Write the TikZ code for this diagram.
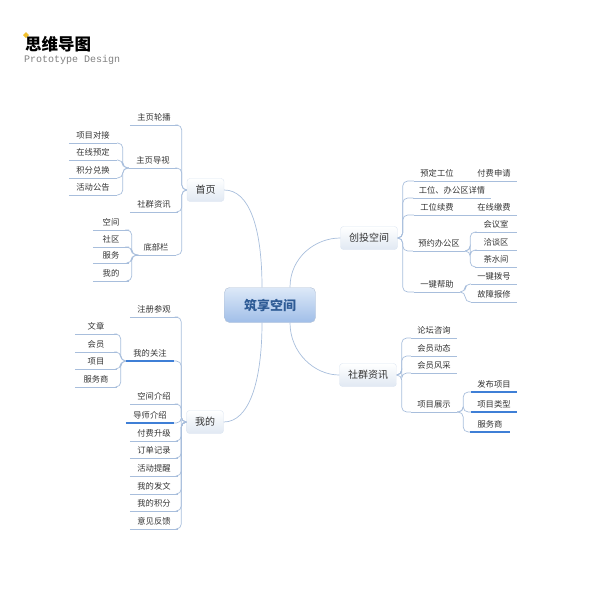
\documentclass[tikz,border=0pt]{standalone}
\usepackage{fontspec}
\newfontfamily\cjk{Noto Sans CJK SC}
\newfontfamily\monof{Liberation Mono}
\usetikzlibrary{positioning}

\definecolor{lnkblue}{HTML}{A8BEDC}
\definecolor{hlblue}{HTML}{3F7FD6}
\definecolor{rootdark}{HTML}{2E5B95}
\definecolor{roottop}{HTML}{DDE9F8}
\definecolor{rootbot}{HTML}{A0BEE8}
\definecolor{txtgray}{HTML}{333333}
\definecolor{ttlyel}{HTML}{F2C12E}

\tikzset{
  lnk/.style={draw=lnkblue, line width=0.7pt, rounded corners=5pt},
  hl/.style={draw=hlblue, line width=1.4pt},
  root/.style={rounded corners=5pt, draw=rootbot!80!black!60, top color=roottop, bottom color=rootbot,
    minimum width=91pt, minimum height=35pt, text=rootdark, font=\cjk\bfseries\fontsize{13}{15}\selectfont},
  topic/.style={rounded corners=3pt, top color=white, bottom color=lnkblue!35, draw=lnkblue!40,
    minimum height=23pt, inner xsep=8.5pt, text=txtgray, font=\cjk\fontsize{10}{12}\selectfont},
  leaf/.style={font=\cjk\fontsize{8.3}{10}\selectfont, text=txtgray, text height=7pt, text depth=3pt,
    inner sep=1.5pt, anchor=south, minimum width=48pt,
    append after command={\pgfextra{\let\lfnode\tikzlastnode}
      (\lfnode.south west) edge[lnk] (\lfnode.south east)}},
  hlleaf/.style={leaf,
    append after command={\pgfextra{\let\hlnode\tikzlastnode}
      (\hlnode.south west) edge[hl] (\hlnode.south east)}},
}

\begin{document}
\begin{tikzpicture}[x=1pt, y=-1pt]
\useasboundingbox (0,0) rectangle (600,600);

% title
\fill[ttlyel] (26,32) -- (29,35) -- (26,38) -- (23,35) -- cycle;
\node[anchor=west, inner sep=0, font=\cjk\bfseries\fontsize{16.5}{18}\selectfont] (title) at (25,44) {思维导图};
\node[anchor=west, inner sep=0, text=black!50, font=\monof\fontsize{10}{12}\selectfont] (subttl) at (24,60) {Prototype Design};

% center and main topics
\node[root] (root) at (270,305) {筑享空间};
\node[topic] (sy) at (205.5,190) {首页};
\node[topic] (wd) at (205,422) {我的};
\node[topic] (ctkj) at (369,238) {创投空间};
\node[topic] (sqzx) at (368,375) {社群资讯};

\draw[lnk] ([xshift=-8pt]root.north) .. controls +(0,-60) and +(25,0) .. (sy.east);
\draw[lnk] ([xshift=-8pt]root.south) .. controls +(0,60) and +(25,0) .. (wd.east);
\draw[lnk] ([xshift=20pt]root.north) .. controls +(0,-30) and +(-25,0) .. (ctkj.west);
\draw[lnk] ([xshift=20pt]root.south) .. controls +(0,30) and +(-25,0) .. (sqzx.west);

% 首页
\node[leaf] (zylb) at (154,125) {主页轮播};
\node[leaf] (zydh) at (153,168) {主页导视};
\node[leaf] (sqzx1) at (154,212) {社群资讯};
\node[leaf, minimum width=40pt] (dbl) at (156,255) {底部栏};

\node[leaf] (xmdj) at (93,143) {项目对接};
\node[leaf] (zxyd) at (93,160) {在线预定};
\node[leaf] (jfdh) at (93,178) {积分兑换};
\node[leaf] (hdgg) at (93,195) {活动公告};

\node[leaf, minimum width=36pt] (kj) at (111,230) {空间};
\node[leaf, minimum width=36pt] (sq) at (111,247) {社区};
\node[leaf, minimum width=36pt] (fw) at (111,263) {服务};
\node[leaf, minimum width=36pt] (wd1) at (111,281) {我的};

\draw[lnk] (sy.west) -- ++(-5,0) |- (zylb.south east);
\draw[lnk] (sy.west) -- ++(-5,0) |- (zydh.south east);
\draw[lnk] (sy.west) -- ++(-5,0) |- (sqzx1.south east);
\draw[lnk] (sy.west) -- ++(-5,0) |- (dbl.south east);

\draw[lnk] (zydh.south west) -- ++(-6,0) |- (xmdj.south east);
\draw[lnk] (zydh.south west) -- ++(-6,0) |- (zxyd.south east);
\draw[lnk] (zydh.south west) -- ++(-6,0) |- (jfdh.south east);
\draw[lnk] (zydh.south west) -- ++(-6,0) |- (hdgg.south east);

\draw[lnk] (dbl.south west) -- ++(-4,0) |- (kj.south east);
\draw[lnk] (dbl.south west) -- ++(-4,0) |- (sq.south east);
\draw[lnk] (dbl.south west) -- ++(-4,0) |- (fw.south east);
\draw[lnk] (dbl.south west) -- ++(-4,0) |- (wd1.south east);

% 我的
\node[leaf] (zccg) at (154,317) {注册参观};
\node[hlleaf] (wdgz) at (150,361) {我的关注};
\node[leaf] (kjjs) at (154,404) {空间介绍};
\node[hlleaf] (dsjs) at (150,423) {导师介绍};
\node[leaf] (ffsj) at (154,441) {付费升级};
\node[leaf] (ddjl) at (154,458) {订单记录};
\node[leaf] (hdtx) at (154,476) {活动提醒};
\node[leaf] (wdfw) at (154,494) {我的发文};
\node[leaf] (wdjf) at (154,511) {我的积分};
\node[leaf] (yjfk) at (154,529) {意见反馈};

\node[leaf, minimum width=42pt] (wz) at (96,334) {文章};
\node[leaf, minimum width=42pt] (hy) at (96,352) {会员};
\node[leaf, minimum width=42pt] (xm) at (96,369) {项目};
\node[leaf, minimum width=42pt] (fws) at (96,387) {服务商};

\draw[lnk] (wd.west) -- ++(-5,0) |- (zccg.south east);
\draw[lnk] (wd.west) -- ++(-5,0) |- (wdgz.south east);
\draw[lnk] (wd.west) -- ++(-5,0) |- (kjjs.south east);
\draw[lnk] (wd.west) -- ++(-5,0) |- (dsjs.south east);
\draw[lnk] (wd.west) -- ++(-5,0) |- (ffsj.south east);
\draw[lnk] (wd.west) -- ++(-5,0) |- (ddjl.south east);
\draw[lnk] (wd.west) -- ++(-5,0) |- (hdtx.south east);
\draw[lnk] (wd.west) -- ++(-5,0) |- (wdfw.south east);
\draw[lnk] (wd.west) -- ++(-5,0) |- (wdjf.south east);
\draw[lnk] (wd.west) -- ++(-5,0) |- (yjfk.south east);

\draw[lnk] (wdgz.south west) -- ++(-5,0) |- (wz.south east);
\draw[lnk] (wdgz.south west) -- ++(-5,0) |- (hy.south east);
\draw[lnk] (wdgz.south west) -- ++(-5,0) |- (xm.south east);
\draw[lnk] (wdgz.south west) -- ++(-5,0) |- (fws.south east);

% 创投空间
\node[leaf, minimum width=46pt] (ydgw) at (437,181) {预定工位};
\node[leaf, minimum width=46pt] (ffsq) at (494,181) {付费申请};
\node[leaf, minimum width=77pt] (gwxq) at (452,198) {工位、办公区详情};
\node[leaf, minimum width=46pt] (gwxf) at (437,215) {工位续费};
\node[leaf, minimum width=46pt] (zxjf) at (494,215) {在线缴费};
\node[leaf, minimum width=52pt] (yybgq) at (439,251) {预约办公区};
\node[leaf, minimum width=42pt] (hys) at (496,232) {会议室};
\node[leaf, minimum width=42pt] (qtq) at (496,250) {洽谈区};
\node[leaf, minimum width=42pt] (csj) at (496,267) {茶水间};
\node[leaf, minimum width=46pt] (yjbz) at (437,292) {一键帮助};
\node[leaf, minimum width=46pt] (yjbh) at (494,284) {一键拨号};
\node[leaf, minimum width=46pt] (gzbx) at (494,302) {故障报修};

\draw[lnk] (ctkj.east) -- ++(5,0) |- (ydgw.south west);
\draw[lnk] (ctkj.east) -- ++(5,0) |- (gwxq.south west);
\draw[lnk] (ctkj.east) -- ++(5,0) |- (gwxf.south west);
\draw[lnk] (ctkj.east) -- ++(5,0) |- (yybgq.south west);
\draw[lnk] (ctkj.east) -- ++(5,0) |- (yjbz.south west);

\draw[lnk] (ydgw.south east) -- (ffsq.south west);
\draw[lnk] (gwxf.south east) -- (zxjf.south west);
\draw[lnk] (yybgq.south east) -- ++(5,0) |- (hys.south west);
\draw[lnk] (yybgq.south east) -- ++(5,0) |- (qtq.south west);
\draw[lnk] (yybgq.south east) -- ++(5,0) |- (csj.south west);
\draw[lnk] (yjbz.south east) -- ++(5,0) |- (yjbh.south west);
\draw[lnk] (yjbz.south east) -- ++(5,0) |- (gzbx.south west);

% 社群资讯
\node[leaf, minimum width=46pt] (ltzx) at (434,338) {论坛咨询};
\node[leaf, minimum width=46pt] (hydt) at (434,356) {会员动态};
\node[leaf, minimum width=46pt] (hyfc) at (434,373) {会员风采};
\node[leaf, minimum width=46pt] (xmzs) at (434,412) {项目展示};
\node[hlleaf, minimum width=46pt] (fbxm) at (494,392) {发布项目};
\node[hlleaf, minimum width=46pt] (xmlx) at (494,412) {项目类型};
\node[hlleaf, minimum width=40pt] (fws2) at (490,432) {服务商};

\draw[lnk] (sqzx.east) -- ++(5,0) |- (ltzx.south west);
\draw[lnk] (sqzx.east) -- ++(5,0) |- (hydt.south west);
\draw[lnk] (sqzx.east) -- ++(5,0) |- (hyfc.south west);
\draw[lnk] (sqzx.east) -- ++(5,0) |- (xmzs.south west);

\draw[lnk] (xmzs.south east) -- ++(6,0) |- (fbxm.south west);
\draw[lnk] (xmzs.south east) -- ++(6,0) |- (xmlx.south west);
\draw[lnk] (xmzs.south east) -- ++(6,0) |- (fws2.south west);
\end{tikzpicture}
\end{document}
